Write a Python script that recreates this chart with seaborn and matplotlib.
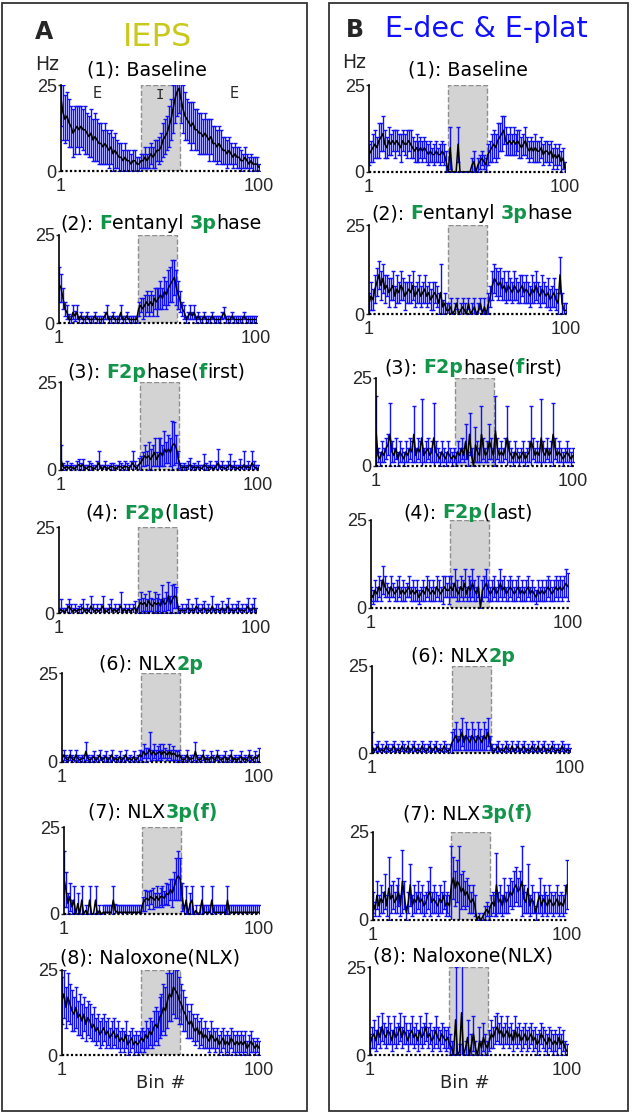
import numpy as np
import pandas as pd
import matplotlib
matplotlib.use("Agg")
import matplotlib.pyplot as plt
from matplotlib.patches import Rectangle
import seaborn as sns

# ---------------- data (Hz per bin, mean and s.e.) ----------------
bins = list(range(1, 101))

iA_baseline = [21, 17, 15, 16, 14, 13, 11, 12, 13, 12,
               13, 12, 12, 11, 10, 11, 9, 10, 9, 8,
               8, 7, 8, 7, 6, 7, 5, 6, 5, 4,
               4, 3, 4, 3, 3, 2, 3, 3, 2, 2,
               3, 3, 4, 3, 4, 5, 4, 5, 6, 6,
               7, 9, 10, 11, 13, 15, 18, 21, 23, 24,
               21, 18, 16, 15, 14, 13, 14, 12, 12, 11,
               11, 10, 11, 10, 9, 10, 8, 8, 7, 8,
               7, 6, 6, 5, 6, 5, 4, 5, 4, 4,
               3, 3, 4, 3, 2, 3, 2, 2, 2, 1]
eA_baseline = [8, 8, 7, 7, 7, 6, 7, 7, 6, 7,
               6, 6, 7, 6, 6, 7, 6, 7, 6, 6,
               6, 5, 6, 5, 5, 5, 5, 5, 4, 4,
               4, 3, 4, 3, 3, 3, 3, 3, 2, 2,
               2, 2, 3, 2, 3, 3, 3, 4, 3, 4,
               4, 5, 5, 5, 6, 6, 7, 7, 7, 7,
               7, 7, 7, 6, 6, 7, 6, 6, 6, 6,
               6, 5, 6, 5, 6, 5, 5, 5, 5, 5,
               5, 4, 4, 4, 4, 3, 3, 3, 3, 3,
               3, 2, 3, 2, 2, 2, 2, 2, 2, 1]

iA_fent3p = [11, 10, 7, 4, 3, 1, 1, 3, 2, 3,
             1, 2, 1, 1, 2, 1, 1, 1, 2, 1,
             1, 1, 1, 2, 3, 1, 1, 2, 1, 1,
             1, 3, 1, 1, 2, 1, 1, 1, 1, 1,
             4, 5, 4, 5, 6, 5, 6, 5, 7, 6,
             7, 8, 7, 9, 8, 10, 11, 12, 13, 10,
             8, 6, 4, 3, 1, 2, 3, 2, 3, 1,
             2, 1, 1, 2, 1, 1, 1, 2, 1, 1,
             1, 1, 2, 3, 1, 1, 1, 2, 1, 1,
             1, 1, 1, 2, 1, 1, 1, 1, 1, 1]
eA_fent3p = [5, 4, 3, 2, 2, 1.5, 1, 2, 1.5, 2,
             1, 1, 1, 1, 1, 1, 1, 1, 1, 1,
             1, 1, 1, 1, 2, 1, 1, 1, 1, 1,
             1, 2, 1, 1, 1, 1, 1, 1, 1, 1,
             2, 2, 3, 3, 3, 3, 3, 3, 3, 4,
             3, 4, 3, 4, 4, 5, 5, 6, 5, 5,
             4, 3, 2, 2, 1, 1, 2, 1, 2, 1,
             1, 1, 1, 1, 1, 1, 1, 1, 1, 1,
             1, 1, 1, 1.5, 1, 1, 1, 1, 1, 1,
             1, 1, 1, 1, 1, 1, 1, 1, 1, 1]

iA_f2first = [3, 1, 0.5, 1, 0.5, 1, 0.5, 0.5, 1, 1.5,
              1, 1.5, 0.5, 0.5, 1, 1, 0.5, 0.5, 1, 2,
              0.5, 0.5, 1, 0.5, 0.5, 1, 1, 0.5, 0.5, 1,
              1, 0.5, 1, 1, 0.5, 1, 2, 1, 0.5, 1.5,
              2, 3, 4, 3.5, 4, 3, 4, 5, 3, 4,
              5, 4, 6, 5, 6, 5, 7, 7.5, 6, 3,
              1, 0.5, 1, 0.5, 1, 1.5, 0.5, 1, 0.5, 1,
              0.5, 0.5, 1.5, 1, 0.5, 1, 0.5, 0.5, 1, 2,
              0.5, 1, 0.5, 0.5, 1, 1.5, 0.5, 1, 0.5, 0.5,
              1, 0.5, 1.5, 0.5, 1, 0.5, 2, 1, 0.5, 0.5]
eA_f2first = [4, 1, 1, 1.5, 1, 1, 1, 1, 1.5, 1.5,
              1, 1.5, 1, 1, 1.5, 1, 1, 1, 1.5, 3.5,
              1, 1, 1.5, 1, 1, 1, 1, 1, 1, 1.5,
              1, 1, 1.5, 1, 1, 1.5, 3.5, 1.5, 1, 2,
              2, 2, 3, 2, 4, 3, 3, 4, 2, 5,
              4, 3, 5, 3, 4, 4, 7, 6, 4, 2.5,
              1, 1, 1, 1, 1.5, 2, 1, 1, 1, 1.5,
              1, 1, 3, 1, 1, 1.5, 1, 1, 1.5, 4,
              1, 1.5, 1, 1, 1.5, 3, 1, 1.5, 1, 1,
              2, 1, 4, 1, 1.5, 1, 3.5, 1.5, 1, 1]

iA_f2last = [0.5, 1, 0.5, 0.5, 1, 2, 1, 0.5, 1, 0.5,
             1, 1, 1.5, 0.5, 1, 0.5, 2, 1, 0.5, 1,
             0.5, 1, 2, 0.5, 0.5, 1, 1.5, 0.5, 1, 0.5,
             1, 2, 0.5, 1, 0.5, 1, 0.5, 1, 1.5, 0.5,
             2, 3, 2.5, 3, 2, 3.5, 2.5, 2, 3, 2.5,
             3, 2, 4, 2.5, 3, 5, 2.5, 4, 5, 4.5,
             1, 0.5, 1, 0.5, 1, 1.5, 0.5, 1, 0.5, 2,
             1, 0.5, 1, 1.5, 0.5, 1, 0.5, 2, 0.5, 1,
             1, 0.5, 1.5, 0.5, 1, 2, 0.5, 1, 0.5, 1,
             1.5, 0.5, 1, 0.5, 1, 2, 0.5, 1, 1.5, 0.5]
eA_f2last = [1, 3, 1, 1, 1.5, 2, 1.5, 1, 1.5, 1,
             1, 1.5, 2.5, 1, 1.5, 1, 3, 1.5, 1, 1.5,
             1, 1.5, 3, 1, 1, 1.5, 2.5, 1, 1.5, 1,
             1.5, 4, 1, 1.5, 1, 1.5, 1, 1.5, 2, 1,
             2, 3, 2, 2.5, 2, 3, 2, 2, 3, 2,
             2.5, 2, 4, 2, 3, 4, 2.5, 4, 3.5, 3,
             1, 1, 1.5, 1, 1.5, 2.5, 1, 1.5, 1, 2.5,
             1.5, 1, 1.5, 2, 1, 1.5, 1, 3, 1, 1.5,
             1.5, 1, 2, 1, 1.5, 2.5, 1, 1.5, 1, 1.5,
             2, 1, 1.5, 1, 1.5, 2.5, 1, 1.5, 3, 1]

iA_nlx2p = [1, 2, 1, 0.5, 2, 1, 0.5, 2, 1, 0.5,
            1, 1, 3, 1, 0.5, 1, 1.5, 0.5, 1, 2,
            0.5, 1, 1.5, 0.5, 1, 2, 0.5, 1, 0.5, 1.5,
            0.5, 1, 2, 0.5, 1, 0.5, 1.5, 0.5, 1, 2,
            1.5, 3, 2, 2.5, 3.5, 2, 3, 2, 2.5, 3,
            2, 3, 2.5, 2, 3, 2, 2.5, 2, 1.5, 2,
            1, 0.5, 1, 2, 0.5, 1, 1, 3, 1, 0.5,
            1, 2, 0.5, 1, 0.5, 1.5, 1, 0.5, 2, 1,
            0.5, 1, 1.5, 0.5, 1, 2, 0.5, 1, 0.5, 1,
            1.5, 0.5, 1, 0.5, 2, 1, 0.5, 1.5, 1, 2]
eA_nlx2p = [1, 1.5, 1, 1, 1.5, 1, 1, 1.5, 1, 1,
            1, 1, 2.5, 1, 1, 1, 1.5, 1, 1, 1.5,
            1, 1, 1.5, 1, 1, 1.5, 1, 1, 1, 1.5,
            1, 1, 1.5, 1, 1, 1, 1.5, 1, 1, 1.5,
            1.5, 2, 2, 1.5, 5, 1.5, 2, 1.5, 2, 2,
            1.5, 2, 1.5, 1.5, 2, 1.5, 2, 1.5, 1.5, 1.5,
            1, 1, 1, 1.5, 1, 1, 1, 2.5, 1, 1,
            1, 1.5, 1, 1, 1, 1.5, 1, 1, 1.5, 1,
            1, 1, 1.5, 1, 1, 1.5, 1, 1, 1, 1,
            1.5, 1, 1, 1, 1.5, 1, 1, 1.5, 1, 2]

iA_nlx3p = [10, 7, 3, 5, 2, 4, 0, 3, 0, 4,
            0, 1, 0, 4, 0, 0, 4, 0, 1, 0,
            0.5, 0.5, 0.5, 0.5, 0.5, 4, 1, 0.5, 0.5, 0.5,
            0.5, 0.5, 0.5, 0.5, 0.5, 0.5, 0.5, 0.5, 0.5, 0.5,
            3, 4, 4.5, 4, 5, 4.5, 4, 5, 4, 5,
            5, 4.5, 6, 5.5, 7, 6, 8, 10, 11, 10,
            5, 1, 4, 0, 3, 4, 0, 1, 0, 0.5,
            4, 0.5, 0.5, 0.5, 0.5, 4, 0.5, 0.5, 0.5, 0.5,
            0.5, 0.5, 0.5, 4, 0.5, 0.5, 0.5, 0.5, 0.5, 0.5,
            0.5, 0.5, 0.5, 0.5, 0.5, 0.5, 0.5, 0.5, 0.5, 0.5]
eA_nlx3p = [8, 5, 3, 4, 2, 4, 0, 3, 0, 4,
            0, 1.5, 0, 4, 0, 0, 4, 0, 1.5, 0,
            2, 2, 2, 2, 2, 4, 2, 2, 2, 2,
            2, 2, 2, 2, 2, 2, 2, 2, 2, 2,
            2, 3, 2, 2.5, 2, 3, 2, 3, 2, 2.5,
            3, 2, 3, 3, 3, 4, 4, 6, 7, 6,
            4, 1.5, 4, 0, 3, 4, 0, 1.5, 0, 2,
            4, 2, 2, 2, 2, 4, 2, 2, 2, 2,
            2, 2, 2, 4, 2, 2, 2, 2, 2, 2,
            2, 2, 2, 2, 2, 2, 2, 2, 2, 2]

iA_naloxone = [16, 18, 14, 17, 15, 13, 12, 14, 11, 12,
               10, 12, 9, 11, 10, 8, 9, 7, 8, 6,
               7, 8, 6, 7, 5, 6, 7, 5, 6, 4,
               5, 4, 6, 3, 4, 5, 3, 4, 3, 4,
               5, 4, 6, 5, 7, 6, 8, 9, 8, 11,
               12, 14, 13, 16, 18, 17, 20, 19, 18, 16,
               15, 13, 12, 10, 9, 10, 8, 7, 8, 6,
               7, 5, 6, 5, 4, 6, 5, 4, 5, 3,
               4, 5, 3, 4, 3, 5, 4, 3, 4, 3,
               4, 3, 4, 2, 3, 4, 3, 2, 3, 2]
eA_naloxone = [7, 7, 6, 7, 6, 6, 5, 6, 5, 6,
               5, 5, 5, 5, 5, 4, 5, 4, 4, 4,
               4, 4, 4, 4, 3, 4, 4, 3, 4, 3,
               3, 3, 4, 3, 3, 3, 3, 3, 3, 3,
               3, 3, 4, 3, 4, 4, 5, 5, 5, 6,
               6, 7, 7, 8, 8, 7, 8, 8, 7, 7,
               6, 6, 5, 5, 4, 5, 4, 4, 4, 4,
               4, 3, 4, 3, 3, 4, 3, 3, 3, 3,
               3, 3, 3, 3, 3, 3, 3, 3, 3, 3,
               3, 3, 3, 2, 3, 3, 2, 2, 2, 2]

eB_mean_baseline = [5, 6, 7, 8, 7, 9, 10, 11, 8, 7,
                    9, 8, 9, 8, 9, 8, 7, 9, 8, 8,
                    9, 8, 7, 6, 7, 6, 7, 6, 7, 6,
                    5, 6, 5, 5, 6, 5, 5, 6, 5, 3,
                    0, 7, 0, 0, 0, 8, 0, 0, 0, 0,
                    0, 0, 2, 3, 0, 2, 3, 4, 3, 2,
                    5, 6, 7, 8, 7, 9, 10, 11, 12, 9,
                    8, 9, 8, 9, 8, 9, 8, 7, 8, 9,
                    7, 6, 7, 6, 7, 6, 6, 7, 5, 6,
                    6, 5, 6, 4, 5, 4, 5, 3, 4, 1]
eB_err_baseline = [3, 3, 4, 4, 3, 5, 4, 5, 4, 3,
                   4, 3, 3, 4, 3, 3, 4, 3, 3, 4,
                   3, 4, 3, 3, 4, 3, 3, 3, 3, 3,
                   3, 3, 2, 3, 3, 2, 3, 3, 3, 3,
                   0, 6, 0, 0, 0, 5, 0, 0, 0, 0,
                   0, 0, 2, 3, 0, 2, 2, 2, 2, 2,
                   3, 3, 4, 4, 4, 5, 4, 5, 4, 4,
                   3, 4, 3, 4, 3, 3, 4, 3, 3, 4,
                   3, 3, 3, 3, 4, 3, 3, 3, 3, 3,
                   3, 3, 3, 3, 3, 3, 3, 3, 3, 2]

eB_mean_fent3p = [3, 5, 4, 7, 9, 11, 8, 10, 7, 8,
                  6, 7, 8, 5, 7, 6, 8, 7, 5, 6,
                  7, 6, 8, 5, 6, 7, 5, 6, 7, 5,
                  6, 4, 5, 6, 5, 3, 6, 2, 3, 1,
                  1, 2, 0, 1, 3, 0, 1, 2, 1, 0,
                  3, 0, 1, 2, 0, 1, 3, 0, 2, 0,
                  3, 5, 8, 10, 9, 8, 9, 7, 8, 6,
                  8, 7, 6, 8, 7, 6, 7, 8, 6, 7,
                  6, 5, 7, 6, 8, 6, 5, 7, 6, 5,
                  6, 4, 5, 6, 4, 3, 11, 3, 1, 1]
eB_err_fent3p = [3, 4, 3, 4, 4, 4, 4, 4, 4, 3,
                 4, 3, 4, 3, 4, 3, 4, 3, 4, 3,
                 4, 3, 4, 3, 3, 4, 3, 3, 4, 3,
                 3, 3, 4, 3, 3, 3, 8, 2, 3, 2,
                 2, 2.5, 0, 2, 1.5, 0, 2, 2.5, 2, 0,
                 1.5, 0, 2, 2.5, 0, 2, 1.5, 0, 2.5, 0,
                 3, 3, 4, 4, 4, 4, 4, 3, 4, 3,
                 4, 3, 3, 4, 3, 3, 4, 3, 3, 4,
                 3, 3, 4, 3, 4, 3, 3, 4, 3, 3,
                 4, 3, 3, 4, 3, 3, 5, 3, 2, 2]

eB_mean_f2first = [10, 3, 2, 4, 3, 5, 6, 9, 4, 3,
                   5, 2, 4, 3, 2, 4, 3, 5, 4, 9,
                   3, 5, 4, 8, 3, 4, 5, 3, 4, 8,
                   4, 3, 2, 4, 3, 2, 4, 3, 2, 3,
                   2, 4, 3, 5, 3, 7, 2, 9, 3, 0,
                   6, 4, 3, 9, 5, 3, 4, 7, 5, 3,
                   10, 5, 3, 4, 3, 5, 8, 4, 3, 2,
                   4, 3, 2, 3, 4, 2, 3, 4, 7, 5,
                   3, 4, 3, 8, 4, 3, 5, 3, 4, 9,
                   5, 3, 4, 3, 2, 3, 4, 3, 2, 3]
eB_err_f2first = [10, 2, 2, 3, 2, 3, 3, 9, 3, 2,
                  3, 2, 3, 2, 2, 3, 2, 3, 3, 8,
                  2, 3, 3, 11, 2, 3, 3, 2, 3, 10,
                  3, 2, 2, 3, 2, 2, 3, 2, 2, 2,
                  2, 3, 2, 3, 2, 5, 2, 6, 2, 0,
                  5, 3, 2, 8, 3, 2, 3, 5, 3, 2,
                  10, 3, 2, 3, 2, 3, 9, 3, 2, 2,
                  3, 2, 2, 2, 3, 2, 2, 3, 10, 3,
                  2, 3, 2, 11, 3, 2, 3, 2, 3, 9,
                  3, 2, 3, 2, 2, 2, 3, 2, 2, 2]

eB_mean_f2last = [4, 3, 5, 4, 6, 5, 8, 6, 5, 4,
                  6, 5, 4, 5, 6, 4, 5, 4, 5, 6,
                  4, 5, 4, 5, 3, 4, 5, 4, 6, 5,
                  4, 5, 4, 6, 5, 4, 5, 6, 5, 5,
                  6, 5, 7, 5, 4, 6, 5, 7, 4, 6,
                  5, 7, 5, 4, 6, 0, 5, 6, 7, 5,
                  4, 5, 6, 4, 5, 7, 5, 6, 4, 5,
                  6, 5, 4, 5, 6, 4, 5, 4, 5, 6,
                  4, 5, 4, 3, 5, 4, 5, 4, 5, 6,
                  5, 4, 5, 6, 5, 6, 5, 6, 7, 6]
eB_err_f2last = [2, 2, 3, 2, 3, 3, 4, 3, 2, 2,
                 3, 2, 2, 3, 3, 2, 3, 2, 2, 3,
                 2, 3, 2, 3, 2, 2, 3, 2, 3, 3,
                 2, 3, 2, 3, 3, 2, 4, 3, 2, 4,
                 3, 2, 4, 3, 2, 3, 3, 4, 2, 3,
                 3, 4, 3, 2, 3, 0, 3, 3, 4, 3,
                 2, 3, 3, 2, 3, 4, 3, 3, 2, 3,
                 3, 3, 2, 3, 3, 2, 3, 2, 3, 3,
                 2, 3, 2, 2, 3, 2, 3, 2, 3, 3,
                 3, 2, 3, 3, 3, 3, 3, 3, 4, 4]

eB_mean_nlx2p = [2, 0.5, 1, 2, 0.5, 1, 0.5, 2, 1, 0.5,
                 1, 2, 0.5, 1, 0.5, 2, 1, 0.5, 2, 0.5,
                 1, 2, 0.5, 1, 0.5, 2, 1, 0.5, 1, 2,
                 0.5, 1, 2, 0.5, 1, 0.5, 2, 1, 0.5, 1,
                 3, 4, 5, 3, 4, 6, 3, 5, 4, 3,
                 5, 4, 3, 5, 4, 3, 5, 4, 6, 3,
                 1, 0.5, 1, 2, 0.5, 1, 0.5, 2, 1, 0.5,
                 2, 0.5, 1, 2, 0.5, 1, 2, 0.5, 1, 0.5,
                 2, 1, 0.5, 2, 0.5, 1, 2, 0.5, 1, 0.5,
                 2, 1, 0.5, 1, 0.5, 2, 1, 0.5, 1, 0.5]
eB_err_nlx2p = [4, 1, 1.5, 1.5, 1, 1.5, 1, 1.5, 1.5, 1,
                1.5, 1.5, 1, 1.5, 1, 1.5, 1.5, 1, 1.5, 1,
                1.5, 1.5, 1, 1.5, 1, 1.5, 1.5, 1, 1.5, 1.5,
                1, 1.5, 1.5, 1, 1.5, 1, 1.5, 1.5, 1, 1.5,
                3, 3, 4, 2, 3, 4, 2, 4, 3, 2,
                4, 3, 2, 4, 3, 2, 4, 3, 4, 2,
                1.5, 1, 1.5, 1.5, 1, 1.5, 1, 1.5, 1.5, 1,
                1.5, 1, 1.5, 1.5, 1, 1.5, 1.5, 1, 1.5, 1,
                1.5, 1.5, 1, 1.5, 1, 1.5, 1.5, 1, 1.5, 1,
                1.5, 1.5, 1, 1.5, 1, 1.5, 1.5, 1, 1.5, 1]

eB_mean_nlx3p = [5, 3, 7, 4, 6, 5, 8, 4, 9, 6,
                 7, 5, 6, 8, 4, 11, 7, 2, 5, 10,
                 4, 6, 5, 7, 5, 6, 4, 5, 7, 8,
                 5, 6, 5, 4, 6, 5, 7, 4, 5, 4,
                 10, 12, 9, 11, 10, 8, 9, 7, 8, 6,
                 5, 6, 4, 0, 1, 0, 1, 2, 3, 2,
                 4, 5, 4, 10, 5, 6, 4, 7, 5, 6,
                 8, 7, 9, 10, 8, 9, 11, 6, 5, 9,
                 4, 6, 5, 2, 5, 7, 4, 6, 5, 4,
                 6, 5, 4, 5, 6, 4, 5, 4, 6, 10]
eB_err_nlx3p = [3, 2, 4, 3, 4, 3, 5, 3, 9, 4,
                4, 3, 4, 4, 3, 9, 4, 2, 3, 6,
                3, 4, 3, 4, 3, 4, 3, 3, 4, 7,
                3, 4, 3, 3, 4, 3, 4, 3, 3, 3,
                11, 6, 5, 6, 11, 5, 5, 4, 4, 4,
                3, 4, 3, 0, 1, 0, 1, 2, 2, 2,
                3, 3, 3, 9, 3, 4, 3, 5, 3, 4,
                4, 4, 5, 5, 4, 5, 10, 4, 3, 7,
                3, 4, 3, 2, 3, 5, 3, 4, 3, 3,
                4, 3, 3, 3, 4, 3, 3, 3, 4, 7]

eB_mean_naloxone = [3, 5, 6, 4, 7, 5, 8, 6, 5, 7,
                    6, 4, 7, 5, 6, 8, 5, 7, 6, 4,
                    6, 7, 5, 6, 4, 7, 5, 6, 8, 5,
                    6, 4, 5, 7, 5, 4, 6, 5, 4, 5,
                    3, 2, 0, 10, 0, 1, 12, 0, 2, 5,
                    0, 3, 6, 2, 0, 4, 2, 5, 3, 2,
                    4, 6, 5, 7, 8, 6, 7, 5, 6, 7,
                    5, 6, 4, 7, 5, 6, 4, 5, 6, 4,
                    5, 6, 4, 5, 3, 4, 6, 5, 4, 3,
                    5, 4, 3, 4, 3, 5, 3, 4, 2, 1]
eB_err_naloxone = [3, 3, 4, 3, 4, 3, 4, 3, 3, 4,
                   3, 3, 4, 3, 3, 4, 3, 4, 3, 3,
                   3, 4, 3, 3, 3, 4, 3, 3, 4, 3,
                   3, 3, 3, 4, 3, 3, 3, 3, 3, 3,
                   3, 2, 0, 15, 0, 2, 14, 0, 2, 5,
                   0, 3, 5, 2, 0, 4, 2, 4, 3, 2,
                   3, 4, 3, 4, 4, 3, 4, 3, 3, 4,
                   3, 3, 3, 4, 3, 3, 3, 3, 3, 3,
                   3, 3, 3, 3, 3, 3, 3, 3, 3, 3,
                   3, 3, 3, 3, 3, 3, 3, 3, 2, 2]

# subplot titles: (text, highlighted?)
titles = [
    [("(1): Baseline", 0)],
    [("(2): ", 0), ("F", 1), ("entanyl ", 0), ("3p", 1), ("hase", 0)],
    [("(3): ", 0), ("F2p", 1), ("hase(", 0), ("f", 1), ("irst)", 0)],
    [("(4): ", 0), ("F2p", 1), ("(", 0), ("l", 1), ("ast)", 0)],
    [("(6): NLX", 0), ("2p", 1)],
    [("(7): NLX", 0), ("3p(f)", 1)],
    [("(8): Naloxone(NLX)", 0)],
]

means_A = [iA_baseline, iA_fent3p, iA_f2first, iA_f2last, iA_nlx2p, iA_nlx3p, iA_naloxone]
errs_A = [eA_baseline, eA_fent3p, eA_f2first, eA_f2last, eA_nlx2p, eA_nlx3p, eA_naloxone]
means_B = [eB_mean_baseline, eB_mean_fent3p, eB_mean_f2first, eB_mean_f2last,
           eB_mean_nlx2p, eB_mean_nlx3p, eB_mean_naloxone]
errs_B = [eB_err_baseline, eB_err_fent3p, eB_err_f2first, eB_err_f2last,
          eB_err_nlx2p, eB_err_nlx3p, eB_err_naloxone]

# ---------------- layout (pixels) ----------------
W, H = 632, 1115
# (x_left, x_right, y_top(25), y_bottom(0))
axpos_A = [(61, 260, 85, 171), (59, 257, 235, 323), (61, 259, 382, 470),
           (59, 257, 527, 613), (62, 260, 673, 762), (64, 260, 827, 914),
           (62, 260, 970, 1055)]
axpos_B = [(369, 566, 85, 172), (369, 567, 225, 314), (376, 574, 378, 466),
           (371, 569, 520, 608), (372, 571, 666, 753), (373, 568, 832, 920),
           (370, 568, 967, 1055)]
# title centre x, baseline y
tpos_A = [(147, 76), (161, 229), (156, 378), (150, 519), (151, 670), (153, 818), (150, 964)]
tpos_B = [(468, 76), (472, 219), (473, 373), (468, 518), (463, 662), (468, 819), (463, 961)]

sns.set_style("white")
plt.rcParams["font.family"] = ["DejaVu Sans"]

GREEN = "#12954a"
BLUE = "#1010ff"

fig = plt.figure(figsize=(W / 100, H / 100), dpi=100)
renderer = fig.canvas.get_renderer()


def fx(x):
    return x / W


def fy(y):
    return 1 - y / H


def text_width(s, **kw):
    t = fig.text(0, 0, s, **kw)
    w = t.get_window_extent(renderer).width
    t.remove()
    return w


TSIZE = 13.7
space_w = text_width("x x", fontsize=TSIZE) - text_width("xx", fontsize=TSIZE)


def draw_title(segs, xc, yb):
    placed = []
    total = 0
    for s, hl in segs:
        lead = len(s) - len(s.lstrip(" "))
        trail = len(s) - len(s.rstrip(" "))
        core = s.strip(" ")
        t = fig.text(0, 0, core, fontsize=TSIZE, color=GREEN if hl else "black",
                     fontweight="bold" if hl else "normal", ha="left", va="baseline")
        w = t.get_window_extent(renderer).width
        total += lead * space_w
        placed.append((t, total))
        total += w + trail * space_w
    x0 = xc - total / 2
    for t, off in placed:
        t.set_position((fx(x0 + off), fy(yb)))


def draw_panel(ax, mean, err):
    ax.add_patch(Rectangle((40.8, 0), 19.7, 25, facecolor="#d3d3d3", edgecolor="#8f8f8f",
                           linestyle="--", linewidth=1, zorder=0))
    ax.errorbar(bins, mean, yerr=err, fmt="none", ecolor=BLUE, elinewidth=1,
                capsize=1.5, capthick=1, zorder=2)
    sns.lineplot(x=bins, y=mean, ax=ax, color="black", linewidth=1.1, zorder=3)
    ax.set_xlim(1, 100.5)
    ax.set_ylim(0, 25)
    ax.axhline(0, color="black", lw=1.6, ls=(0, (1, 1)), clip_on=False, zorder=4)
    for sp in ["top", "right", "bottom"]:
        ax.spines[sp].set_visible(False)
    ax.spines["left"].set_color("black")
    ax.spines["left"].set_linewidth(1.2)
    ax.set_yticks([0, 25])
    ax.set_yticklabels(["0", "25"], family="Liberation Sans", fontsize=13)
    ax.set_xticks([1, 100])
    ax.set_xticklabels(["1", "100"], family="Liberation Sans", fontsize=13)
    ax.tick_params(axis="y", length=2.5, width=1, pad=0.5, left=True)
    ax.tick_params(axis="x", length=0, pad=5)
    ax.set_xlabel("")
    ax.set_ylabel("")
    ax.set_facecolor("none")


for col, (axpos, tpos, means, errs) in enumerate([(axpos_A, tpos_A, means_A, errs_A),
                                                  (axpos_B, tpos_B, means_B, errs_B)]):
    for i in range(7):
        x0, x1, yt, yb = axpos[i]
        ax = fig.add_axes([fx(x0), fy(yb), (x1 - x0) / W, (yb - yt) / H])
        draw_panel(ax, means[i], errs[i])
        draw_title(titles[i], *tpos[i])

# panel frames
fig.patches.append(Rectangle((fx(2), fy(1111)), 305 / W, 1108 / H, fill=False,
                             edgecolor="#333333", linewidth=1.3, transform=fig.transFigure))
fig.patches.append(Rectangle((fx(329), fy(1111)), 299 / W, 1108 / H, fill=False,
                             edgecolor="#333333", linewidth=1.3, transform=fig.transFigure))

# headers
fig.text(fx(44), fy(39), "A", fontsize=17, fontweight="bold", ha="center", va="baseline")
fig.text(fx(158), fy(46), "IEPS", fontsize=23, color="#c9c91c", ha="center", va="baseline")
fig.text(fx(355), fy(37), "B", fontsize=17, fontweight="bold", ha="center", va="baseline")
fig.text(fx(486), fy(37), "E-dec & E-plat", fontsize=20.5, color=BLUE, ha="center", va="baseline")

fig.text(fx(47), fy(70), "Hz", fontsize=13.5, ha="center", va="baseline")
fig.text(fx(354), fy(68), "Hz", fontsize=13.5, ha="center", va="baseline")

# phase labels in A(1)
fig.text(fx(97), fy(94), "E", fontsize=10.5, ha="center", va="center")
fig.text(fx(160), fy(95), "I", fontsize=10, family="DejaVu Sans Mono", ha="center", va="center")
fig.text(fx(234), fy(94), "E", fontsize=10.5, ha="center", va="center")

fig.text(fx(161), fy(1088), "Bin #", fontsize=13, ha="center", va="baseline")
fig.text(fx(465), fy(1088), "Bin #", fontsize=13, ha="center", va="baseline")

fig.savefig("out.png", dpi=100)
